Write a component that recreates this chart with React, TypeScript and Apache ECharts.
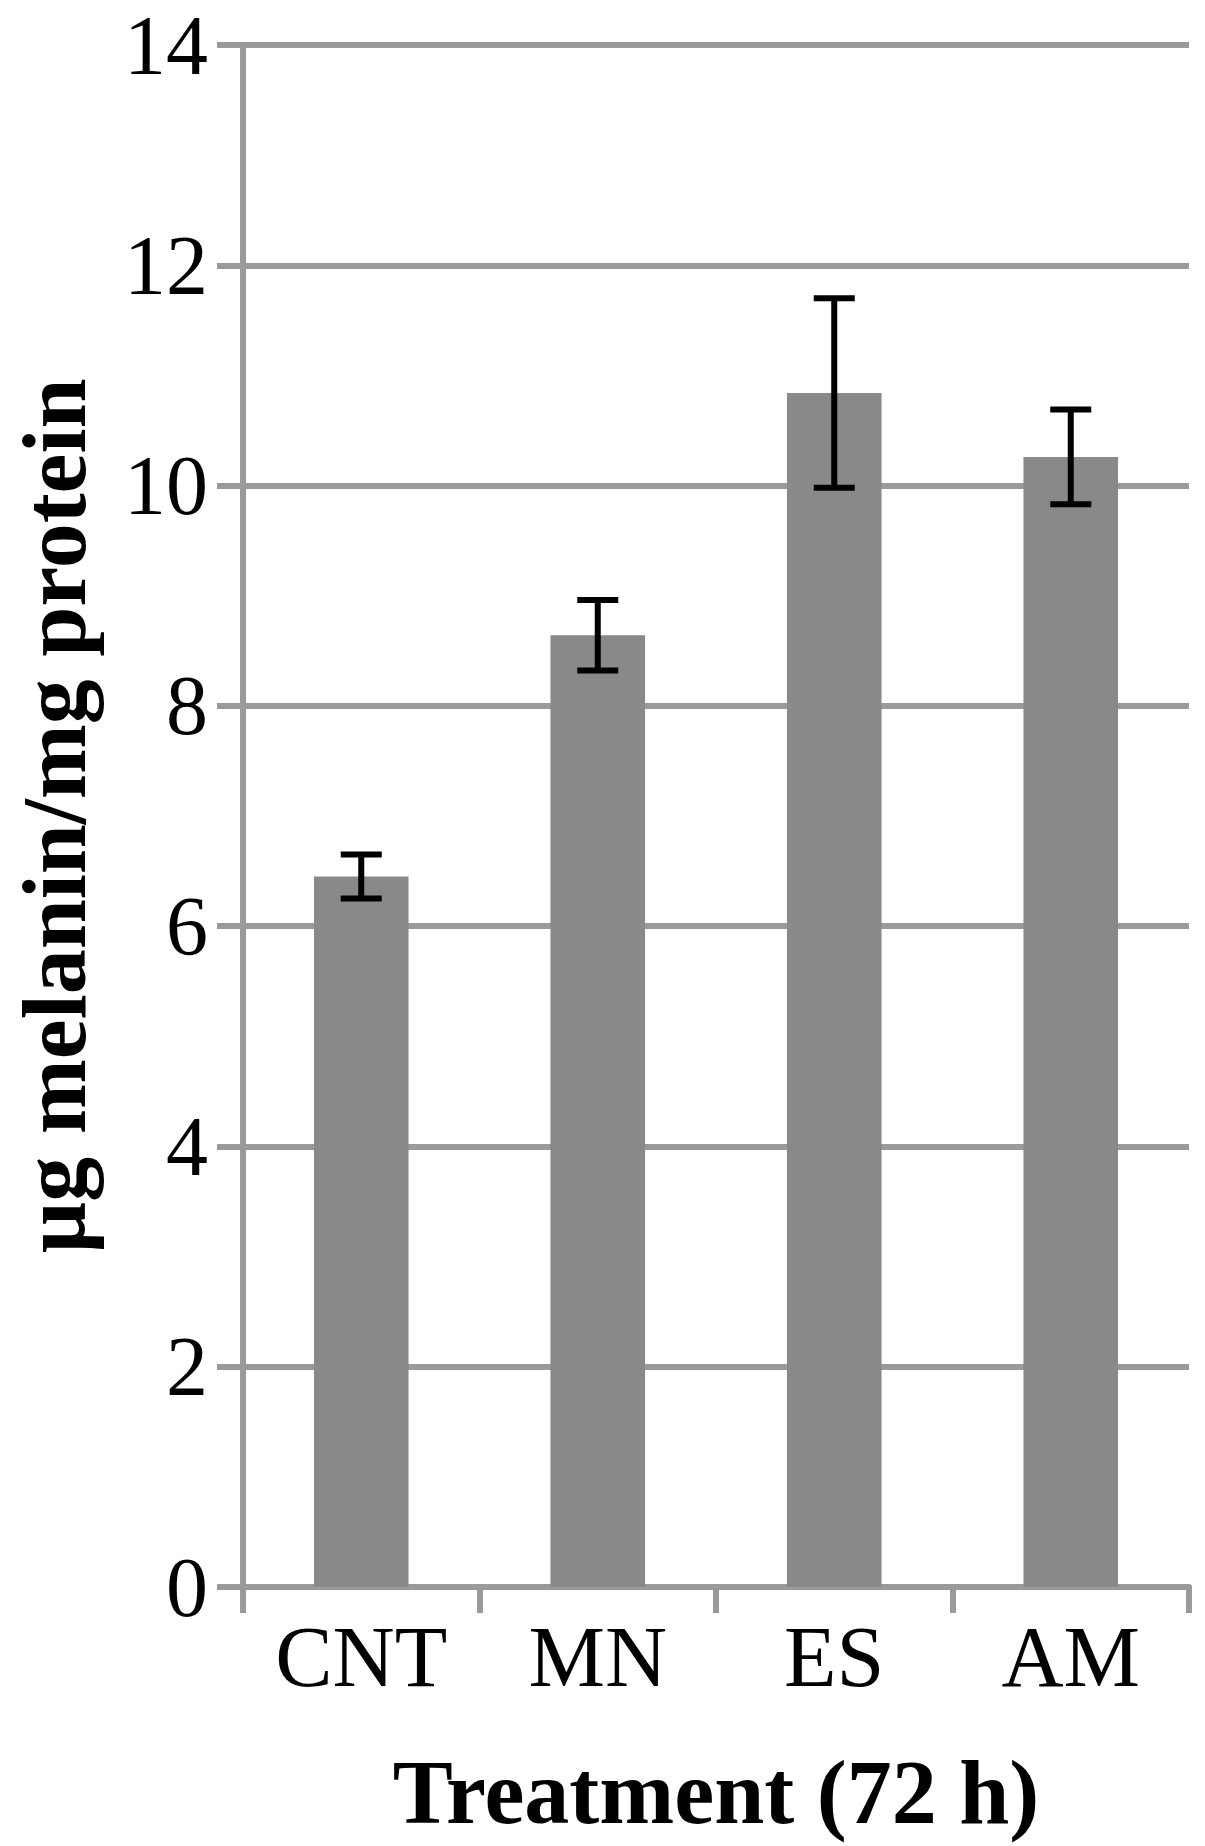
import React, { useEffect, useRef } from "react";
import * as echarts from "echarts";

const categories = ["CNT", "MN", "ES", "AM"];
const means = [6.45, 8.64, 10.84, 10.26];
const errors = [0.2, 0.32, 0.86, 0.43];
const yTicks = { min: 0, max: 14, interval: 2 };

const GRAY = "#9a9a9a";
const BAR = "#898989";
const FONT = "Liberation Serif";

export default function App() {
  const ref = useRef<HTMLDivElement>(null);
  useEffect(() => {
    if (!ref.current) return;
    const chart = echarts.init(ref.current, undefined, { renderer: "svg" });
    const errData = categories.map((_, i) => [i, means[i] - errors[i], means[i] + errors[i]]);
    chart.setOption({
      animation: false,
      backgroundColor: "#ffffff",
      grid: {
        left: 243,
        right: 16,
        top: 45,
        bottom: 259,
        containLabel: false,
        outerBoundsMode: "none",
      },
      xAxis: {
        type: "category",
        data: categories,
        name: "Treatment (72 h)",
        nameLocation: "middle",
        nameGap: 160,
        nameTextStyle: { fontFamily: FONT, fontSize: 90, fontWeight: "bold", color: "#000" },
        axisLine: { show: true, lineStyle: { color: GRAY, width: 6 } },
        axisTick: { show: true, length: 26, lineStyle: { color: GRAY, width: 6 } },
        axisLabel: { fontFamily: FONT, fontSize: 86, color: "#000", margin: 27 },
        splitLine: { show: false },
      },
      yAxis: {
        type: "value",
        min: yTicks.min,
        max: yTicks.max,
        interval: yTicks.interval,
        name: "µg melanin/mg protein",
        nameLocation: "middle",
        nameGap: 144,
        nameTextStyle: { fontFamily: FONT, fontSize: 90, lineHeight: 90, fontWeight: "bold", color: "#000" },
        axisLine: { show: true, lineStyle: { color: GRAY, width: 6 } },
        axisTick: { show: true, length: 26, lineStyle: { color: GRAY, width: 6 } },
        axisLabel: { fontFamily: FONT, fontSize: 84, color: "#000", margin: 35 },
        splitLine: { show: true, lineStyle: { color: GRAY, width: 6 } },
      },
      series: [
        {
          type: "bar",
          data: means,
          barWidth: "40%",
          itemStyle: { color: BAR },
          z: 2,
        },
        {
          type: "custom",
          data: errData,
          encode: { x: 0, y: [1, 2] },
          z: 5,
          renderItem: (params: any, api: any) => {
            const x = api.value(0);
            const pLo = api.coord([x, api.value(1)]);
            const pHi = api.coord([x, api.value(2)]);
            const hw = 20.5;
            const st = { stroke: "#000", lineWidth: 6 };
            return {
              type: "group",
              children: [
                { type: "line", shape: { x1: pHi[0], y1: pHi[1], x2: pLo[0], y2: pLo[1] }, style: st },
                { type: "line", shape: { x1: pHi[0] - hw, y1: pHi[1], x2: pHi[0] + hw, y2: pHi[1] }, style: st },
                { type: "line", shape: { x1: pLo[0] - hw, y1: pLo[1], x2: pLo[0] + hw, y2: pLo[1] }, style: st },
              ],
            };
          },
        },
      ],
    });
    return () => chart.dispose();
  }, []);
  return (
    <div
      ref={ref}
      style={{ position: "absolute", left: 0, top: 0, width: 1205, height: 1846, background: "#fff" }}
    />
  );
}
